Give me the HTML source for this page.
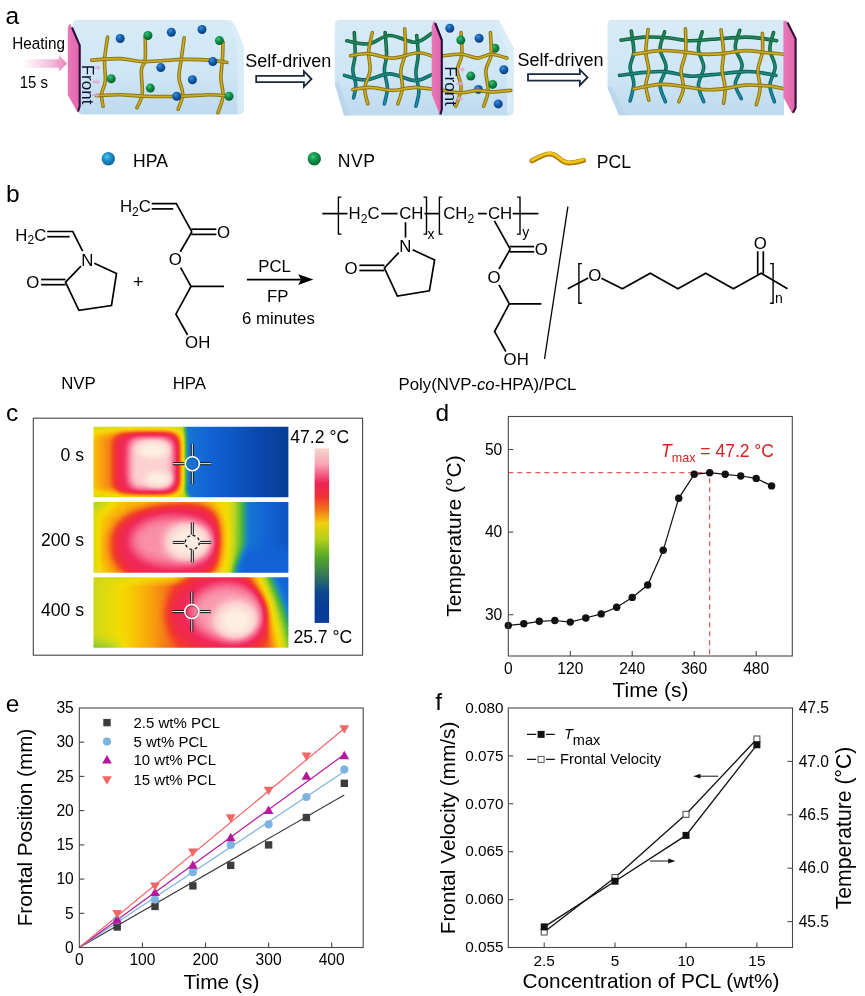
<!DOCTYPE html>
<html><head><meta charset="utf-8"><title>Figure</title>
<style>
html,body{margin:0;padding:0;background:#fff;}
body{width:865px;height:996px;overflow:hidden;font-family:"Liberation Sans", Arial, sans-serif;}
svg{display:block;font-family:"Liberation Sans", Arial, sans-serif;}
</style></head><body>
<svg width="865" height="996" viewBox="0 0 865 996">
<rect width="865" height="996" fill="#fff"/>
<defs>
<linearGradient id="gso" gradientUnits="userSpaceOnUse" x1="0" y1="28" x2="0" y2="108"><stop offset="0" stop-color="#126038"/><stop offset="0.55" stop-color="#0e6254"/><stop offset="1" stop-color="#0c6288"/></linearGradient>
<linearGradient id="gsi" gradientUnits="userSpaceOnUse" x1="0" y1="28" x2="0" y2="108"><stop offset="0" stop-color="#23894f"/><stop offset="0.55" stop-color="#1c8a7c"/><stop offset="1" stop-color="#208cb8"/></linearGradient>
<radialGradient id="spb" cx="0.38" cy="0.32" r="0.7"><stop offset="0" stop-color="#3f8fdc"/><stop offset="0.45" stop-color="#1660b0"/><stop offset="1" stop-color="#0a3a78"/></radialGradient>
<radialGradient id="spg" cx="0.38" cy="0.32" r="0.7"><stop offset="0" stop-color="#3cc47a"/><stop offset="0.45" stop-color="#12904a"/><stop offset="1" stop-color="#0a5c30"/></radialGradient>
<linearGradient id="boxg" x1="0" y1="0" x2="0" y2="1"><stop offset="0" stop-color="#d7ebf7"/><stop offset="0.55" stop-color="#cfe6f5"/><stop offset="0.85" stop-color="#c4def0"/><stop offset="1" stop-color="#bedaee"/></linearGradient>
<linearGradient id="heat" x1="0" y1="0" x2="1" y2="0"><stop offset="0" stop-color="#ee9aca" stop-opacity="0"/><stop offset="0.55" stop-color="#ee9aca" stop-opacity="0.55"/><stop offset="1" stop-color="#e884bc" stop-opacity="1"/></linearGradient>
<linearGradient id="faceg" x1="0" y1="0" x2="1" y2="0"><stop offset="0" stop-color="#e978ba"/><stop offset="1" stop-color="#e066ac"/></linearGradient>
</defs>
<g id="pa">
<path d="M76,19.8 H225 Q232,19.8 235.5,26 L243.8,47 V109 Q243.8,114.4 238,114.4 H83 Q78,114.4 77,110 L72,30 Q72,19.8 76,19.8Z" fill="url(#boxg)"/>
<path d="M229,19.8 Q233,20.5 235.5,26 L243.8,47 V109 Q243.8,114.4 238,114.4 L237.4,111 V49 Z" fill="#deeef9" opacity="0.75"/>
<path d="M340,19.8 H498.6 L513.7,48 V109.5 Q513.7,115.6 508,115.6 H344 L334.8,84 V25 Q334.8,19.8 340,19.8Z" fill="url(#boxg)"/>
<path d="M334.8,84 L344,115.6 H350 L338.5,82 Z" fill="#b9d5ea" opacity="0.8"/>
<path d="M498.6,19.8 L513.7,48 V109.5 Q513.7,115.6 508,115.6 L507,112 V50 L494,19.8Z" fill="#dcedf8" opacity="0.8"/>
<path d="M613,19.8 H784 V115.2 H619 L607.5,88 V25 Q607.5,19.8 613,19.8Z" fill="url(#boxg)"/>
<path d="M607.5,88 L619,115.2 H626 L611.5,86 Z" fill="#b9d5ea" opacity="0.8"/>
<path d="M107.6,37.0 C107.1,40.8 105.0,52.3 104.6,59.6 C104.2,66.9 105.8,74.8 105.3,80.6 C104.8,86.4 102.0,89.9 101.6,94.2 C101.2,98.5 102.8,104.2 103.1,106.2" fill="none" stroke="#8a7412" stroke-width="3.6" stroke-linecap="round"/><path d="M107.6,37.0 C107.1,40.8 105.0,52.3 104.6,59.6 C104.2,66.9 105.8,74.8 105.3,80.6 C104.8,86.4 102.0,89.9 101.6,94.2 C101.2,98.5 102.8,104.2 103.1,106.2" fill="none" stroke="#cdae26" stroke-width="1.6" stroke-linecap="round"/>
<path d="M145.2,36.3 C145.2,40.2 145.8,54.0 145.2,59.6 C144.6,65.2 141.9,64.3 141.4,70.1 C140.9,75.9 142.9,87.9 142.2,94.2 C141.4,100.5 137.8,105.5 136.9,107.7" fill="none" stroke="#8a7412" stroke-width="3.6" stroke-linecap="round"/><path d="M145.2,36.3 C145.2,40.2 145.8,54.0 145.2,59.6 C144.6,65.2 141.9,64.3 141.4,70.1 C140.9,75.9 142.9,87.9 142.2,94.2 C141.4,100.5 137.8,105.5 136.9,107.7" fill="none" stroke="#cdae26" stroke-width="1.6" stroke-linecap="round"/>
<path d="M184.2,37.8 C183.7,41.4 182.1,53.0 181.2,59.6 C180.3,66.2 178.8,71.8 179.0,77.6 C179.2,83.4 182.8,88.9 182.7,94.2 C182.6,99.5 178.9,106.7 178.2,109.2" fill="none" stroke="#8a7412" stroke-width="3.6" stroke-linecap="round"/><path d="M184.2,37.8 C183.7,41.4 182.1,53.0 181.2,59.6 C180.3,66.2 178.8,71.8 179.0,77.6 C179.2,83.4 182.8,88.9 182.7,94.2 C182.6,99.5 178.9,106.7 178.2,109.2" fill="none" stroke="#cdae26" stroke-width="1.6" stroke-linecap="round"/>
<path d="M223.0,42.0 C222.9,45.0 222.8,54.0 222.4,60.0 C222.1,66.0 220.8,72.0 220.9,78.0 C221.0,84.0 223.5,90.4 223.0,96.2 C222.5,102.0 218.8,110.0 217.9,112.7" fill="none" stroke="#8a7412" stroke-width="3.6" stroke-linecap="round"/><path d="M223.0,42.0 C222.9,45.0 222.8,54.0 222.4,60.0 C222.1,66.0 220.8,72.0 220.9,78.0 C221.0,84.0 223.5,90.4 223.0,96.2 C222.5,102.0 218.8,110.0 217.9,112.7" fill="none" stroke="#cdae26" stroke-width="1.6" stroke-linecap="round"/>
<path d="M91.7,60.1 C96.5,59.9 111.4,58.4 120.2,58.6 C129.0,58.9 134.3,61.5 144.3,61.6 C154.3,61.8 169.3,59.8 180.3,59.5 C191.3,59.2 202.6,59.6 210.4,60.1 C218.2,60.6 224.2,62.1 226.9,62.5" fill="none" stroke="#8a7412" stroke-width="3.6" stroke-linecap="round"/><path d="M91.7,60.1 C96.5,59.9 111.4,58.4 120.2,58.6 C129.0,58.9 134.3,61.5 144.3,61.6 C154.3,61.8 169.3,59.8 180.3,59.5 C191.3,59.2 202.6,59.6 210.4,60.1 C218.2,60.6 224.2,62.1 226.9,62.5" fill="none" stroke="#cdae26" stroke-width="1.6" stroke-linecap="round"/>
<path d="M96.2,95.6 C100.2,95.4 112.2,94.6 120.2,94.7 C128.2,94.8 134.3,96.0 144.3,96.2 C154.3,96.5 169.3,96.5 180.3,96.2 C191.3,96.0 202.4,94.7 210.4,94.7 C218.4,94.7 225.4,96.0 228.4,96.2" fill="none" stroke="#8a7412" stroke-width="3.6" stroke-linecap="round"/><path d="M96.2,95.6 C100.2,95.4 112.2,94.6 120.2,94.7 C128.2,94.8 134.3,96.0 144.3,96.2 C154.3,96.5 169.3,96.5 180.3,96.2 C191.3,96.0 202.4,94.7 210.4,94.7 C218.4,94.7 225.4,96.0 228.4,96.2" fill="none" stroke="#cdae26" stroke-width="1.6" stroke-linecap="round"/>
<circle cx="120.2" cy="38.5" r="4.5" fill="url(#spb)"/>
<circle cx="171.3" cy="32.2" r="4.5" fill="url(#spb)"/>
<circle cx="202.0" cy="29.5" r="4.5" fill="url(#spb)"/>
<circle cx="160.8" cy="67.6" r="4.5" fill="url(#spb)"/>
<circle cx="212.8" cy="61.6" r="4.5" fill="url(#spb)"/>
<circle cx="192.4" cy="79.7" r="4.5" fill="url(#spb)"/>
<circle cx="176.7" cy="96.2" r="4.5" fill="url(#spb)"/>
<circle cx="147.9" cy="35.5" r="4.5" fill="url(#spg)"/>
<circle cx="219.4" cy="40.6" r="4.5" fill="url(#spg)"/>
<circle cx="111.2" cy="78.7" r="4.5" fill="url(#spg)"/>
<circle cx="150.3" cy="88.1" r="4.5" fill="url(#spg)"/>
<circle cx="229.0" cy="96.2" r="4.5" fill="url(#spg)"/>
<path d="M354.3,32.5 C354.4,36.3 355.4,48.8 355.1,55.1 C354.9,61.4 352.7,65.1 352.8,70.1 C352.9,75.1 355.7,80.5 355.8,85.1 C355.9,89.7 354.0,95.8 353.6,97.9" fill="none" stroke="url(#gso)" stroke-width="3.6" stroke-linecap="round"/><path d="M354.3,32.5 C354.4,36.3 355.4,48.8 355.1,55.1 C354.9,61.4 352.7,65.1 352.8,70.1 C352.9,75.1 355.7,80.5 355.8,85.1 C355.9,89.7 354.0,95.8 353.6,97.9" fill="none" stroke="url(#gsi)" stroke-width="1.6" stroke-linecap="round"/>
<path d="M385.1,32.5 C385.4,36.3 386.7,48.8 386.6,55.1 C386.5,61.4 384.3,64.6 384.4,70.1 C384.5,75.6 387.4,82.5 387.4,88.1 C387.4,93.7 384.9,101.3 384.4,103.9" fill="none" stroke="url(#gso)" stroke-width="3.6" stroke-linecap="round"/><path d="M385.1,32.5 C385.4,36.3 386.7,48.8 386.6,55.1 C386.5,61.4 384.3,64.6 384.4,70.1 C384.5,75.6 387.4,82.5 387.4,88.1 C387.4,93.7 384.9,101.3 384.4,103.9" fill="none" stroke="url(#gsi)" stroke-width="1.6" stroke-linecap="round"/>
<path d="M416.7,35.5 C416.9,38.8 418.3,48.8 418.2,55.1 C418.1,61.4 415.8,67.1 415.9,73.1 C416.0,79.1 418.9,85.7 418.9,91.2 C418.9,96.7 416.4,103.7 415.9,106.2" fill="none" stroke="url(#gso)" stroke-width="3.6" stroke-linecap="round"/><path d="M416.7,35.5 C416.9,38.8 418.3,48.8 418.2,55.1 C418.1,61.4 415.8,67.1 415.9,73.1 C416.0,79.1 418.9,85.7 418.9,91.2 C418.9,96.7 416.4,103.7 415.9,106.2" fill="none" stroke="url(#gsi)" stroke-width="1.6" stroke-linecap="round"/>
<path d="M346.8,40.8 C350.4,41.3 361.5,44.7 368.6,43.8 C375.7,42.9 381.8,35.8 389.6,35.5 C397.4,35.2 408.2,42.7 415.2,42.3 C422.2,41.9 428.9,34.8 431.7,33.3" fill="none" stroke="url(#gso)" stroke-width="3.6" stroke-linecap="round"/><path d="M346.8,40.8 C350.4,41.3 361.5,44.7 368.6,43.8 C375.7,42.9 381.8,35.8 389.6,35.5 C397.4,35.2 408.2,42.7 415.2,42.3 C422.2,41.9 428.9,34.8 431.7,33.3" fill="none" stroke="url(#gsi)" stroke-width="1.6" stroke-linecap="round"/>
<path d="M344.5,75.4 C348.0,76.2 358.1,80.2 365.6,79.9 C373.1,79.7 381.3,73.8 389.6,73.9 C397.9,74.0 408.2,80.5 415.2,80.6 C422.2,80.7 428.9,75.6 431.7,74.6" fill="none" stroke="url(#gso)" stroke-width="3.6" stroke-linecap="round"/><path d="M344.5,75.4 C348.0,76.2 358.1,80.2 365.6,79.9 C373.1,79.7 381.3,73.8 389.6,73.9 C397.9,74.0 408.2,80.5 415.2,80.6 C422.2,80.7 428.9,75.6 431.7,74.6" fill="none" stroke="url(#gsi)" stroke-width="1.6" stroke-linecap="round"/>
<path d="M372.3,32.5 C371.7,35.8 369.0,45.8 368.6,52.1 C368.2,58.4 370.7,64.1 370.1,70.1 C369.5,76.1 365.2,82.5 364.8,88.1 C364.4,93.7 367.3,101.3 367.8,103.9" fill="none" stroke="#8a7412" stroke-width="3.6" stroke-linecap="round"/><path d="M372.3,32.5 C371.7,35.8 369.0,45.8 368.6,52.1 C368.2,58.4 370.7,64.1 370.1,70.1 C369.5,76.1 365.2,82.5 364.8,88.1 C364.4,93.7 367.3,101.3 367.8,103.9" fill="none" stroke="#cdae26" stroke-width="1.6" stroke-linecap="round"/>
<path d="M404.7,28.8 C404.8,32.7 406.0,45.2 405.4,52.1 C404.8,59.0 401.4,64.1 400.9,70.1 C400.4,76.1 402.9,82.5 402.4,88.1 C401.9,93.7 398.6,101.3 397.9,103.9" fill="none" stroke="#8a7412" stroke-width="3.6" stroke-linecap="round"/><path d="M404.7,28.8 C404.8,32.7 406.0,45.2 405.4,52.1 C404.8,59.0 401.4,64.1 400.9,70.1 C400.4,76.1 402.9,82.5 402.4,88.1 C401.9,93.7 398.6,101.3 397.9,103.9" fill="none" stroke="#cdae26" stroke-width="1.6" stroke-linecap="round"/>
<path d="M350.5,55.8 C353.5,55.4 361.6,53.2 368.6,53.6 C375.6,54.0 384.3,58.2 392.6,58.1 C400.9,58.0 411.2,52.9 418.2,52.8 C425.2,52.7 431.9,56.5 434.7,57.3" fill="none" stroke="#8a7412" stroke-width="3.6" stroke-linecap="round"/><path d="M350.5,55.8 C353.5,55.4 361.6,53.2 368.6,53.6 C375.6,54.0 384.3,58.2 392.6,58.1 C400.9,58.0 411.2,52.9 418.2,52.8 C425.2,52.7 431.9,56.5 434.7,57.3" fill="none" stroke="#cdae26" stroke-width="1.6" stroke-linecap="round"/>
<path d="M352.8,89.6 C355.7,89.2 363.5,87.3 370.1,87.4 C376.7,87.5 385.1,90.4 392.6,90.4 C400.1,90.4 408.2,87.5 415.2,87.4 C422.2,87.3 431.4,89.2 434.7,89.6" fill="none" stroke="#8a7412" stroke-width="3.6" stroke-linecap="round"/><path d="M352.8,89.6 C355.7,89.2 363.5,87.3 370.1,87.4 C376.7,87.5 385.1,90.4 392.6,90.4 C400.1,90.4 408.2,87.5 415.2,87.4 C422.2,87.3 431.4,89.2 434.7,89.6" fill="none" stroke="#cdae26" stroke-width="1.6" stroke-linecap="round"/>
<circle cx="478.4" cy="89.4" r="4.5" fill="url(#spb)"/>
<circle cx="494.9" cy="48.3" r="4.5" fill="url(#spg)"/>
<path d="M461.1,32.5 C461.2,36.3 462.4,48.8 461.8,55.1 C461.2,61.4 457.4,64.6 457.3,70.1 C457.2,75.6 461.4,82.1 461.1,88.1 C460.9,94.1 456.7,103.2 455.8,106.2" fill="none" stroke="#8a7412" stroke-width="3.6" stroke-linecap="round"/><path d="M461.1,32.5 C461.2,36.3 462.4,48.8 461.8,55.1 C461.2,61.4 457.4,64.6 457.3,70.1 C457.2,75.6 461.4,82.1 461.1,88.1 C460.9,94.1 456.7,103.2 455.8,106.2" fill="none" stroke="#cdae26" stroke-width="1.6" stroke-linecap="round"/>
<path d="M490.4,32.5 C490.5,36.3 491.9,48.8 491.1,55.1 C490.4,61.4 486.4,64.1 485.9,70.1 C485.4,76.1 488.5,85.2 488.1,91.2 C487.7,97.2 484.4,103.7 483.6,106.2" fill="none" stroke="#8a7412" stroke-width="3.6" stroke-linecap="round"/><path d="M490.4,32.5 C490.5,36.3 491.9,48.8 491.1,55.1 C490.4,61.4 486.4,64.1 485.9,70.1 C485.4,76.1 488.5,85.2 488.1,91.2 C487.7,97.2 484.4,103.7 483.6,106.2" fill="none" stroke="#cdae26" stroke-width="1.6" stroke-linecap="round"/>
<path d="M443.0,55.8 C446.1,55.5 456.0,53.9 461.8,54.3 C467.6,54.7 472.7,58.1 477.6,58.1 C482.5,58.1 486.2,54.3 491.1,54.3 C496.0,54.3 504.3,57.5 506.9,58.1" fill="none" stroke="#8a7412" stroke-width="3.6" stroke-linecap="round"/><path d="M443.0,55.8 C446.1,55.5 456.0,53.9 461.8,54.3 C467.6,54.7 472.7,58.1 477.6,58.1 C482.5,58.1 486.2,54.3 491.1,54.3 C496.0,54.3 504.3,57.5 506.9,58.1" fill="none" stroke="#cdae26" stroke-width="1.6" stroke-linecap="round"/>
<path d="M443.0,90.4 C446.0,90.8 455.3,92.7 461.1,92.7 C466.9,92.7 472.6,90.5 477.6,90.4 C482.6,90.3 485.6,91.9 491.1,91.9 C496.6,91.9 507.4,90.7 510.7,90.4" fill="none" stroke="#8a7412" stroke-width="3.6" stroke-linecap="round"/><path d="M443.0,90.4 C446.0,90.8 455.3,92.7 461.1,92.7 C466.9,92.7 472.6,90.5 477.6,90.4 C482.6,90.3 485.6,91.9 491.1,91.9 C496.6,91.9 507.4,90.7 510.7,90.4" fill="none" stroke="#cdae26" stroke-width="1.6" stroke-linecap="round"/>
<circle cx="449.8" cy="28.3" r="4.5" fill="url(#spb)"/>
<circle cx="479.1" cy="38.3" r="4.5" fill="url(#spb)"/>
<circle cx="503.9" cy="69.8" r="4.5" fill="url(#spb)"/>
<circle cx="498.2" cy="103.9" r="4.5" fill="url(#spb)"/>
<circle cx="460.8" cy="40.1" r="4.5" fill="url(#spg)"/>
<circle cx="470.8" cy="76.1" r="4.5" fill="url(#spg)"/>
<circle cx="492.6" cy="84.4" r="4.5" fill="url(#spg)"/>
<path d="M631.3,31.0 C631.7,34.5 634.0,46.1 633.8,52.1 C633.6,58.1 630.1,61.8 630.1,67.1 C630.1,72.3 633.8,78.0 633.8,83.6 C633.8,89.2 630.7,98.0 630.1,100.9" fill="none" stroke="url(#gso)" stroke-width="3.6" stroke-linecap="round"/><path d="M631.3,31.0 C631.7,34.5 634.0,46.1 633.8,52.1 C633.6,58.1 630.1,61.8 630.1,67.1 C630.1,72.3 633.8,78.0 633.8,83.6 C633.8,89.2 630.7,98.0 630.1,100.9" fill="none" stroke="url(#gsi)" stroke-width="1.6" stroke-linecap="round"/>
<path d="M664.6,31.8 C663.9,34.7 659.9,43.2 660.1,49.1 C660.4,55.0 666.1,61.1 666.1,67.1 C666.1,73.1 660.2,79.3 660.1,85.1 C660.0,90.9 664.5,98.9 665.4,101.7" fill="none" stroke="url(#gso)" stroke-width="3.6" stroke-linecap="round"/><path d="M664.6,31.8 C663.9,34.7 659.9,43.2 660.1,49.1 C660.4,55.0 666.1,61.1 666.1,67.1 C666.1,73.1 660.2,79.3 660.1,85.1 C660.0,90.9 664.5,98.9 665.4,101.7" fill="none" stroke="url(#gsi)" stroke-width="1.6" stroke-linecap="round"/>
<path d="M702.2,31.8 C701.6,34.7 698.1,43.2 698.4,49.1 C698.6,55.0 703.7,61.1 703.7,67.1 C703.7,73.1 698.4,79.3 698.4,85.1 C698.4,90.9 702.8,98.9 703.7,101.7" fill="none" stroke="url(#gso)" stroke-width="3.6" stroke-linecap="round"/><path d="M702.2,31.8 C701.6,34.7 698.1,43.2 698.4,49.1 C698.6,55.0 703.7,61.1 703.7,67.1 C703.7,73.1 698.4,79.3 698.4,85.1 C698.4,90.9 702.8,98.9 703.7,101.7" fill="none" stroke="url(#gsi)" stroke-width="1.6" stroke-linecap="round"/>
<path d="M739.8,30.3 C739.0,33.2 734.9,41.7 735.3,47.6 C735.7,53.5 742.1,59.6 742.1,65.6 C742.1,71.6 735.4,78.1 735.3,83.6 C735.2,89.1 740.3,96.2 741.3,98.7" fill="none" stroke="url(#gso)" stroke-width="3.6" stroke-linecap="round"/><path d="M739.8,30.3 C739.0,33.2 734.9,41.7 735.3,47.6 C735.7,53.5 742.1,59.6 742.1,65.6 C742.1,71.6 735.4,78.1 735.3,83.6 C735.2,89.1 740.3,96.2 741.3,98.7" fill="none" stroke="url(#gsi)" stroke-width="1.6" stroke-linecap="round"/>
<path d="M773.6,32.5 C773.0,35.3 769.6,43.3 769.9,49.1 C770.1,54.9 775.1,61.1 775.1,67.1 C775.1,73.1 770.0,79.3 769.9,85.1 C769.8,90.9 773.6,98.9 774.4,101.7" fill="none" stroke="url(#gso)" stroke-width="3.6" stroke-linecap="round"/><path d="M773.6,32.5 C773.0,35.3 769.6,43.3 769.9,49.1 C770.1,54.9 775.1,61.1 775.1,67.1 C775.1,73.1 770.0,79.3 769.9,85.1 C769.8,90.9 773.6,98.9 774.4,101.7" fill="none" stroke="url(#gsi)" stroke-width="1.6" stroke-linecap="round"/>
<path d="M621.0,40.1 C625.0,39.6 637.3,37.5 645.1,37.1 C652.9,36.7 660.1,37.2 667.6,37.8 C675.1,38.4 682.7,40.5 690.2,40.8 C697.7,41.0 703.6,39.9 712.7,39.3 C721.9,38.7 736.7,37.2 745.1,37.1 C753.5,37.0 757.9,38.0 763.1,38.6 C768.4,39.2 774.4,40.4 776.6,40.8" fill="none" stroke="url(#gso)" stroke-width="3.6" stroke-linecap="round"/><path d="M621.0,40.1 C625.0,39.6 637.3,37.5 645.1,37.1 C652.9,36.7 660.1,37.2 667.6,37.8 C675.1,38.4 682.7,40.5 690.2,40.8 C697.7,41.0 703.6,39.9 712.7,39.3 C721.9,38.7 736.7,37.2 745.1,37.1 C753.5,37.0 757.9,38.0 763.1,38.6 C768.4,39.2 774.4,40.4 776.6,40.8" fill="none" stroke="url(#gsi)" stroke-width="1.6" stroke-linecap="round"/>
<path d="M619.5,75.4 C623.8,74.9 637.6,73.0 645.1,72.4 C652.6,71.8 657.1,71.0 664.6,71.6 C672.1,72.2 682.2,75.6 690.2,76.1 C698.2,76.6 703.6,75.3 712.7,74.6 C721.9,73.8 736.7,71.8 745.1,71.6 C753.5,71.3 758.0,72.5 763.1,73.1 C768.2,73.7 773.8,75.0 775.9,75.4" fill="none" stroke="url(#gso)" stroke-width="3.6" stroke-linecap="round"/><path d="M619.5,75.4 C623.8,74.9 637.6,73.0 645.1,72.4 C652.6,71.8 657.1,71.0 664.6,71.6 C672.1,72.2 682.2,75.6 690.2,76.1 C698.2,76.6 703.6,75.3 712.7,74.6 C721.9,73.8 736.7,71.8 745.1,71.6 C753.5,71.3 758.0,72.5 763.1,73.1 C768.2,73.7 773.8,75.0 775.9,75.4" fill="none" stroke="url(#gsi)" stroke-width="1.6" stroke-linecap="round"/>
<path d="M648.1,29.5 C647.7,33.3 645.7,45.3 645.8,52.1 C645.9,58.9 648.8,64.6 648.8,70.1 C648.8,75.6 645.8,80.1 645.8,85.1 C645.8,90.1 648.3,97.7 648.8,100.2" fill="none" stroke="#8a7412" stroke-width="3.6" stroke-linecap="round"/><path d="M648.1,29.5 C647.7,33.3 645.7,45.3 645.8,52.1 C645.9,58.9 648.8,64.6 648.8,70.1 C648.8,75.6 645.8,80.1 645.8,85.1 C645.8,90.1 648.3,97.7 648.8,100.2" fill="none" stroke="#cdae26" stroke-width="1.6" stroke-linecap="round"/>
<path d="M685.4,28.8 C685.5,32.7 686.4,45.2 685.7,52.1 C685.0,59.0 681.6,64.1 681.2,70.1 C680.8,76.1 683.8,82.8 683.4,88.1 C683.0,93.4 679.6,99.4 678.9,101.7" fill="none" stroke="#8a7412" stroke-width="3.6" stroke-linecap="round"/><path d="M685.4,28.8 C685.5,32.7 686.4,45.2 685.7,52.1 C685.0,59.0 681.6,64.1 681.2,70.1 C680.8,76.1 683.8,82.8 683.4,88.1 C683.0,93.4 679.6,99.4 678.9,101.7" fill="none" stroke="#cdae26" stroke-width="1.6" stroke-linecap="round"/>
<path d="M721.0,29.9 C721.4,33.6 723.4,45.4 723.6,52.1 C723.8,58.8 721.9,64.1 722.1,70.1 C722.4,76.1 724.9,82.6 725.1,88.1 C725.4,93.6 723.9,100.7 723.6,103.2" fill="none" stroke="#8a7412" stroke-width="3.6" stroke-linecap="round"/><path d="M721.0,29.9 C721.4,33.6 723.4,45.4 723.6,52.1 C723.8,58.8 721.9,64.1 722.1,70.1 C722.4,76.1 724.9,82.6 725.1,88.1 C725.4,93.6 723.9,100.7 723.6,103.2" fill="none" stroke="#cdae26" stroke-width="1.6" stroke-linecap="round"/>
<path d="M762.4,33.3 C762.4,36.4 763.1,46.0 762.4,52.1 C761.6,58.2 758.3,64.1 757.9,70.1 C757.5,76.1 760.4,82.3 760.1,88.1 C759.9,93.9 757.0,101.9 756.4,104.7" fill="none" stroke="#8a7412" stroke-width="3.6" stroke-linecap="round"/><path d="M762.4,33.3 C762.4,36.4 763.1,46.0 762.4,52.1 C761.6,58.2 758.3,64.1 757.9,70.1 C757.5,76.1 760.4,82.3 760.1,88.1 C759.9,93.9 757.0,101.9 756.4,104.7" fill="none" stroke="#cdae26" stroke-width="1.6" stroke-linecap="round"/>
<path d="M633.8,54.3 C638.2,53.7 651.7,51.0 660.1,50.6 C668.5,50.2 676.7,51.5 684.2,52.1 C691.7,52.7 698.8,54.0 705.2,54.3 C711.6,54.5 715.9,54.2 722.5,53.6 C729.1,53.0 737.6,50.7 745.1,50.6 C752.6,50.5 761.2,52.2 767.6,52.8 C774.0,53.4 780.8,54.0 783.4,54.3" fill="none" stroke="#8a7412" stroke-width="3.6" stroke-linecap="round"/><path d="M633.8,54.3 C638.2,53.7 651.7,51.0 660.1,50.6 C668.5,50.2 676.7,51.5 684.2,52.1 C691.7,52.7 698.8,54.0 705.2,54.3 C711.6,54.5 715.9,54.2 722.5,53.6 C729.1,53.0 737.6,50.7 745.1,50.6 C752.6,50.5 761.2,52.2 767.6,52.8 C774.0,53.4 780.8,54.0 783.4,54.3" fill="none" stroke="#cdae26" stroke-width="1.6" stroke-linecap="round"/>
<path d="M633.8,88.9 C638.2,88.2 651.7,84.8 660.1,84.4 C668.5,84.0 676.7,85.7 684.2,86.6 C691.7,87.5 698.8,89.2 705.2,89.6 C711.6,90.0 715.9,89.7 722.5,88.9 C729.1,88.2 737.6,85.6 745.1,85.1 C752.6,84.6 761.0,85.3 767.6,85.9 C774.2,86.5 782.0,88.4 784.9,88.9" fill="none" stroke="#8a7412" stroke-width="3.6" stroke-linecap="round"/><path d="M633.8,88.9 C638.2,88.2 651.7,84.8 660.1,84.4 C668.5,84.0 676.7,85.7 684.2,86.6 C691.7,87.5 698.8,89.2 705.2,89.6 C711.6,90.0 715.9,89.7 722.5,88.9 C729.1,88.2 737.6,85.6 745.1,85.1 C752.6,84.6 761.0,85.3 767.6,85.9 C774.2,86.5 782.0,88.4 784.9,88.9" fill="none" stroke="#cdae26" stroke-width="1.6" stroke-linecap="round"/>
<polygon points="70.0,23.2 79.5,45.3 79.5,106.2 77.5,112.2 67.8,94.9 67.8,27.3" fill="url(#faceg)"/><path d="M72.0,27.5 L79.7,45.3 L79.7,106.2 L78.0,111.5" fill="none" stroke="#2c0c38" stroke-width="2.1" stroke-linejoin="round"/>
<polygon points="434.0,20.2 441.6,40.0 441.6,109.2 440.0,115.2 431.7,94.2 431.7,26.5" fill="url(#faceg)"/><path d="M435.2,23.0 L441.8,40.0 L441.8,109.2 L440.4,114.5" fill="none" stroke="#2c0c38" stroke-width="2.1" stroke-linejoin="round"/>
<polygon points="783.4,21.3 786.4,20.5 795.4,38.6 795.4,107.7 792.4,113.7 783.4,97.2" fill="url(#faceg)"/><path d="M787.5,22.5 L795.6,38.6 L795.6,107.7 L793.0,112.8" fill="none" stroke="#2c0c38" stroke-width="2.1" stroke-linejoin="round"/>
<path d="M93.4,66.6 H97.4 V64.9 L100.6,67.7 L97.4,70.5 V68.8 H93.4Z" fill="#e3a6d6" opacity="0.85"/>
<path d="M92.8,80.8 H96.8 V79.1 L100.0,81.9 L96.8,84.7 V83.0 H92.8Z" fill="#e3a6d6" opacity="0.85"/>
<path d="M92.0,93.9 H96.0 V92.2 L99.2,95.0 L96.0,97.8 V96.1 H92.0Z" fill="#e3a6d6" opacity="0.85"/>
<path d="M457.8,68.3 H461.8 V66.6 L465.0,69.4 L461.8,72.2 V70.5 H457.8Z" fill="#e3a6d6" opacity="0.85"/>
<path d="M456.3,82.5 H460.3 V80.8 L463.5,83.6 L460.3,86.4 V84.7 H456.3Z" fill="#e3a6d6" opacity="0.85"/>
<path d="M456.3,97.6 H460.3 V95.9 L463.5,98.7 L460.3,101.5 V99.8 H456.3Z" fill="#e3a6d6" opacity="0.85"/>
<text transform="translate(81.8,64.7) rotate(90)" font-size="17" fill="#0a1030">Front</text>
<text transform="translate(445.2,66.2) rotate(90)" font-size="17" fill="#0a1030">Front</text>
<path d="M22,59.2 H59 V55.3 L67,63.5 L59,71.8 V67.8 H22Z" fill="url(#heat)"/>
<text transform="translate(12.3,49.4) scale(0.9,1)" font-size="17">Heating</text>
<text transform="translate(19.8,88.4) scale(0.9,1)" font-size="16.6">15 s</text>
<path d="M256.2,75.8 H303.9 V71.2 L311.5,79.0 L303.9,86.8 V82.2 H256.2Z" fill="#fff" stroke="#1a2a3e" stroke-width="1.8" stroke-linejoin="miter"/>
<path d="M528,74.2 H579.9 V69.60000000000001 L587.5,77.4 L579.9,85.2 V80.60000000000001 H528Z" fill="#fff" stroke="#1a2a3e" stroke-width="1.8" stroke-linejoin="miter"/>
<text x="245.2" y="66.7" font-size="18" text-anchor="start" fill="#000" >Self-driven</text>
<text x="517.6" y="66.0" font-size="18" text-anchor="start" fill="#000" >Self-driven</text>
<radialGradient id="splb" cx="0.4" cy="0.35" r="0.68"><stop offset="0" stop-color="#58c4ec"/><stop offset="0.4" stop-color="#1c94cc"/><stop offset="1" stop-color="#0c5e94"/></radialGradient>
<radialGradient id="splg" cx="0.4" cy="0.35" r="0.68"><stop offset="0" stop-color="#3cc880"/><stop offset="0.4" stop-color="#129a4e"/><stop offset="1" stop-color="#0a6232"/></radialGradient>
<circle cx="108.3" cy="158.8" r="6.7" fill="url(#splb)"/>
<text x="133.0" y="167.4" font-size="17.6" text-anchor="start" fill="#000" >HPA</text>
<circle cx="314.3" cy="158.8" r="6.7" fill="url(#splg)"/>
<text x="337.8" y="167.4" font-size="17.6" text-anchor="start" fill="#000" letter-spacing="0.5">NVP</text>
<path d="M532,160.8 C538,158 544,153.2 551,154 C558,155 561,162.5 568,163 C574,163.4 579,161.5 583.5,160.3" fill="none" stroke="#a87c0a" stroke-width="5" stroke-linecap="round"/><path d="M532,160.8 C538,158 544,153.2 551,154 C558,155 561,162.5 568,163 C574,163.4 579,161.5 583.5,160.3" transform="translate(0,-0.6)" fill="none" stroke="#f0c418" stroke-width="2.8" stroke-linecap="round"/>
<text x="596.8" y="167.5" font-size="17.6" text-anchor="start" fill="#000" >PCL</text>
</g>
<g id="pb" stroke-linecap="butt" stroke-linejoin="miter">
<text x="15.3" y="240.5" font-size="16.8">H<tspan font-size="12.1" dy="3.6">2</tspan><tspan dy="-3.6">C</tspan></text>
<path d="M47.2,231.5 L72.8,231.5 L82.6,251.2" fill="none" stroke="#000" stroke-width="1.7"/>
<path d="M47.2,236.7 L69.6,236.7" fill="none" stroke="#000" stroke-width="1.7"/>
<text x="87.4" y="265.6" font-size="16.8" text-anchor="middle">N</text>
<path d="M81.0,266.2 L65.5,282.1 L78.9,310.3 L111.5,305.5 L116.5,273.4 L94.3,263.2" fill="none" stroke="#000" stroke-width="1.7"/>
<path d="M65.5,279.5 L41.1,279.5" fill="none" stroke="#000" stroke-width="1.7"/>
<path d="M65.5,284.7 L41.1,284.7" fill="none" stroke="#000" stroke-width="1.7"/>
<text x="32.9" y="287.8" font-size="16.8" text-anchor="middle">O</text>
<text x="138.3" y="287.6" font-size="18" text-anchor="middle">+</text>
<text x="78.5" y="388.7" font-size="16.8" text-anchor="middle">NVP</text>
<text x="119.9" y="212.4" font-size="16.8">H<tspan font-size="12.1" dy="3.6">2</tspan><tspan dy="-3.6">C</tspan></text>
<path d="M151.7,203.7 L176.3,203.7 L191.9,231.8" fill="none" stroke="#000" stroke-width="1.7"/>
<path d="M151.7,208.9 L173.2,208.9" fill="none" stroke="#000" stroke-width="1.7"/>
<path d="M191.3,229.2 L216.4,229.2" fill="none" stroke="#000" stroke-width="1.7"/>
<path d="M191.3,234.4 L216.4,234.4" fill="none" stroke="#000" stroke-width="1.7"/>
<text x="223.5" y="237.5" font-size="16.8" text-anchor="middle">O</text>
<path d="M191.9,231.8 L180.3,251.8" fill="none" stroke="#000" stroke-width="1.7"/>
<text x="175.4" y="265.3" font-size="16.8" text-anchor="middle">O</text>
<path d="M180.6,267.6 L191.0,286.4 L224.0,286.4" fill="none" stroke="#000" stroke-width="1.7"/>
<path d="M191.0,286.4 L175.9,314.2 L187.6,335.0" fill="none" stroke="#000" stroke-width="1.7"/>
<text x="185.1" y="348.0" font-size="16.8" text-anchor="start">OH</text>
<text x="189.3" y="389.0" font-size="16.8" text-anchor="middle">HPA</text>
<path d="M246.9,279.6 L302.0,279.6" fill="none" stroke="#000" stroke-width="1.7"/>
<path d="M313.4,279.6 L298.2,274.2 L301,279.6 L298.2,285Z" fill="#000"/>
<text x="274.6" y="271.8" font-size="16.8" text-anchor="middle">PCL</text>
<text x="277.7" y="302.4" font-size="16.8" text-anchor="middle">FP</text>
<text x="278.4" y="323.5" font-size="16.8" text-anchor="middle">6 minutes</text>
<path d="M322.3,213.6 L347.5,213.6" fill="none" stroke="#000" stroke-width="1.7"/>
<path d="M341.4,197.1 L338.4,197.1 L338.4,234.1 L341.4,234.1" fill="none" stroke="#000" stroke-width="1.4"/>
<text x="348.6" y="219.2" font-size="16.8">H<tspan font-size="12.1" dy="3.6">2</tspan><tspan dy="-3.6">C</tspan></text>
<path d="M381.2,213.6 L397.6,213.6" fill="none" stroke="#000" stroke-width="1.7"/>
<text x="399.2" y="219.2" font-size="16.8" text-anchor="start">CH</text>
<path d="M424.5,213.6 L439.4,213.6" fill="none" stroke="#000" stroke-width="1.7"/>
<path d="M423.5,197.1 L426.5,197.1 L426.5,234.1 L423.5,234.1" fill="none" stroke="#000" stroke-width="1.4"/>
<text x="427.6" y="239.1" font-size="14" text-anchor="start">x</text>
<path d="M442.4,197.1 L439.4,197.1 L439.4,234.1 L442.4,234.1" fill="none" stroke="#000" stroke-width="1.4"/>
<text x="443.2" y="219.2" font-size="16.8">CH<tspan font-size="12.1" dy="3.6">2</tspan></text>
<path d="M478.0,213.6 L486.8,213.6" fill="none" stroke="#000" stroke-width="1.7"/>
<text x="487.9" y="219.2" font-size="16.8" text-anchor="start">CH</text>
<path d="M512.6,213.6 L538.4,213.6" fill="none" stroke="#000" stroke-width="1.7"/>
<path d="M517.0,197.1 L520.0,197.1 L520.0,234.1 L517.0,234.1" fill="none" stroke="#000" stroke-width="1.4"/>
<text x="522.2" y="237.2" font-size="14" text-anchor="start">y</text>
<path d="M405.5,222.3 L405.5,237.6" fill="none" stroke="#000" stroke-width="1.7"/>
<text x="405.3" y="251.8" font-size="16.8" text-anchor="middle">N</text>
<path d="M398.8,252.6 L384.4,268.0 L397.4,296.0 L429.4,290.8 L434.6,259.9 L412.6,249.8" fill="none" stroke="#000" stroke-width="1.7"/>
<path d="M384.4,265.3 L359.4,265.3" fill="none" stroke="#000" stroke-width="1.7"/>
<path d="M384.4,270.5 L359.4,270.5" fill="none" stroke="#000" stroke-width="1.7"/>
<text x="351.1" y="274.3" font-size="16.8" text-anchor="middle">O</text>
<path d="M494.4,220.8 L510.2,249.2" fill="none" stroke="#000" stroke-width="1.7"/>
<path d="M509.6,246.6 L534.2,246.6" fill="none" stroke="#000" stroke-width="1.7"/>
<path d="M509.6,251.8 L534.2,251.8" fill="none" stroke="#000" stroke-width="1.7"/>
<text x="541.4" y="254.9" font-size="16.8" text-anchor="middle">O</text>
<path d="M510.2,249.2 L499.0,269.0" fill="none" stroke="#000" stroke-width="1.7"/>
<text x="494.0" y="282.6" font-size="16.8" text-anchor="middle">O</text>
<path d="M499.0,284.9 L509.3,303.8 L541.4,303.8" fill="none" stroke="#000" stroke-width="1.7"/>
<path d="M509.3,303.8 L494.6,331.6 L505.8,351.5" fill="none" stroke="#000" stroke-width="1.7"/>
<text x="503.6" y="365.4" font-size="16.8" text-anchor="start">OH</text>
<path d="M567.9,206.7 L544.5,359.0" fill="none" stroke="#000" stroke-width="1.3"/>
<text x="487.5" y="390.2" font-size="16.8" text-anchor="middle">Poly(NVP-<tspan font-style="italic">co</tspan>-HPA)/PCL</text>
<path d="M581.9,263.6 L578.9,263.6 L578.9,303.2 L581.9,303.2" fill="none" stroke="#000" stroke-width="1.4"/>
<path d="M567.8,288.8 L588.2,278.1" fill="none" stroke="#000" stroke-width="1.7"/>
<text x="594.7" y="280.6" font-size="16.8" text-anchor="middle">O</text>
<path d="M601.4,278.2 L622.4,288.8 L650.2,273.3 L677.9,288.8 L705.7,273.3 L733.4,288.8 L761.2,273.3 L787.5,288.8" fill="none" stroke="#000" stroke-width="1.7"/>
<path d="M757.7,274.5 L757.7,251.3" fill="none" stroke="#000" stroke-width="1.7"/>
<path d="M763.3,273.8 L763.3,251.3" fill="none" stroke="#000" stroke-width="1.7"/>
<text x="760.4" y="248.5" font-size="16.8" text-anchor="middle">O</text>
<path d="M770.1,263.6 L773.1,263.6 L773.1,303.2 L770.1,303.2" fill="none" stroke="#000" stroke-width="1.4"/>
<text x="775.0" y="303.4" font-size="14" text-anchor="start">n</text>
</g>
<defs>
<filter id="cmap" x="0" y="0" width="1" height="1" color-interpolation-filters="sRGB"><feComponentTransfer><feFuncR type="table" tableValues="0.031 0.033 0.035 0.037 0.039 0.047 0.055 0.063 0.071 0.080 0.090 0.100 0.127 0.158 0.230 0.312 0.419 0.565 0.710 0.812 0.885 0.958 0.973 0.973 0.973 0.968 0.961 0.953 0.948 0.946 0.943 0.943 0.953 0.963 0.973 0.978 0.984 0.988 0.990 0.991 0.992"/><feFuncG type="table" tableValues="0.227 0.242 0.257 0.272 0.286 0.312 0.337 0.363 0.388 0.424 0.459 0.495 0.552 0.615 0.664 0.710 0.753 0.792 0.831 0.850 0.856 0.862 0.796 0.713 0.629 0.527 0.412 0.297 0.217 0.190 0.163 0.162 0.265 0.368 0.471 0.588 0.706 0.809 0.853 0.897 0.941"/><feFuncB type="table" tableValues="0.565 0.596 0.627 0.659 0.690 0.727 0.765 0.802 0.839 0.832 0.825 0.817 0.690 0.533 0.397 0.267 0.179 0.157 0.134 0.099 0.054 0.009 0.016 0.035 0.055 0.080 0.110 0.139 0.180 0.239 0.298 0.361 0.439 0.518 0.596 0.669 0.742 0.805 0.832 0.859 0.886"/></feComponentTransfer></filter>
<filter id="bl1_5" x="-50%" y="-50%" width="200%" height="200%" color-interpolation-filters="sRGB"><feGaussianBlur stdDeviation="1.5"/></filter>
<filter id="bl2" x="-50%" y="-50%" width="200%" height="200%" color-interpolation-filters="sRGB"><feGaussianBlur stdDeviation="2"/></filter>
<filter id="bl3" x="-50%" y="-50%" width="200%" height="200%" color-interpolation-filters="sRGB"><feGaussianBlur stdDeviation="3"/></filter>
<filter id="bl4" x="-50%" y="-50%" width="200%" height="200%" color-interpolation-filters="sRGB"><feGaussianBlur stdDeviation="4"/></filter>
<filter id="bl5" x="-50%" y="-50%" width="200%" height="200%" color-interpolation-filters="sRGB"><feGaussianBlur stdDeviation="5"/></filter>
<filter id="bl6" x="-50%" y="-50%" width="200%" height="200%" color-interpolation-filters="sRGB"><feGaussianBlur stdDeviation="6"/></filter>
<filter id="bl8" x="-50%" y="-50%" width="200%" height="200%" color-interpolation-filters="sRGB"><feGaussianBlur stdDeviation="8"/></filter>
<filter id="bl10" x="-50%" y="-50%" width="200%" height="200%" color-interpolation-filters="sRGB"><feGaussianBlur stdDeviation="10"/></filter>
<clipPath id="ic0"><rect x="93.5" y="426.8" width="194.89999999999998" height="70.39999999999998"/></clipPath>
<clipPath id="ic1"><rect x="93.5" y="501.9" width="194.89999999999998" height="70.80000000000007"/></clipPath>
<clipPath id="ic2"><rect x="93.5" y="577.3" width="194.89999999999998" height="70.40000000000009"/></clipPath>
<linearGradient id="g1" gradientUnits="userSpaceOnUse" x1="184" y1="0" x2="290" y2="0"><stop offset="0" stop-color="#424242"/><stop offset="0.3" stop-color="#303030"/><stop offset="0.65" stop-color="#1c1c1c"/><stop offset="1" stop-color="#050505"/></linearGradient>
<linearGradient id="g2" gradientUnits="userSpaceOnUse" x1="93" y1="0" x2="289" y2="0"><stop offset="0" stop-color="#7d7d7d"/><stop offset="0.05" stop-color="#8c8c8c"/><stop offset="0.1" stop-color="#919191"/><stop offset="0.62" stop-color="#8c8c8c"/><stop offset="0.69" stop-color="#828282"/><stop offset="0.75" stop-color="#666666"/><stop offset="0.80" stop-color="#404040"/><stop offset="1" stop-color="#242424"/></linearGradient>
<linearGradient id="g3" gradientUnits="userSpaceOnUse" x1="93" y1="0" x2="289" y2="0"><stop offset="0" stop-color="#797979"/><stop offset="0.1" stop-color="#828282"/><stop offset="0.22" stop-color="#8f8f8f"/><stop offset="0.34" stop-color="#9e9e9e"/><stop offset="0.44" stop-color="#adadad"/><stop offset="1" stop-color="#a8a8a8"/></linearGradient>
<linearGradient id="g1b" gradientUnits="userSpaceOnUse" x1="90" y1="0" x2="118" y2="0"><stop offset="0" stop-color="#8c8c8c"/><stop offset="1" stop-color="#ababab"/></linearGradient>
<linearGradient id="cbar" x1="0" y1="0" x2="0" y2="1"><stop offset="0" stop-color="#f4d8cc"/><stop offset="0.09" stop-color="#f8a4b4"/><stop offset="0.2" stop-color="#ee2458"/><stop offset="0.28" stop-color="#f03232"/><stop offset="0.35" stop-color="#f07418"/><stop offset="0.43" stop-color="#f0d010"/><stop offset="0.52" stop-color="#b4d018"/><stop offset="0.62" stop-color="#54a828"/><stop offset="0.72" stop-color="#387a54"/><stop offset="0.82" stop-color="#0e488e"/><stop offset="0.9" stop-color="#083c98"/><stop offset="1" stop-color="#0a3c9c"/></linearGradient>
</defs>
<g id="pc">
<g clip-path="url(#ic0)"><g filter="url(#cmap)">
<rect x="80" y="416.8" width="230" height="90.39999999999998" fill="url(#g1)"/>
<g filter="url(#bl2)"><path d="M70,406.8 H185 V489.2 Q187,499.2 199,503.2 V517.2 H70Z" fill="#787878"/></g>
<g filter="url(#bl4)"><rect x="60" y="432" width="121" height="61" rx="6" fill="url(#g1b)"/></g>
<g filter="url(#bl3)"><rect x="115" y="433.5" width="63" height="59.5" rx="10" fill="#c2c2c2"/></g>
<g filter="url(#bl4)"><rect x="128.5" y="437.5" width="45" height="52" rx="10" fill="#ededed"/></g>
<g filter="url(#bl3)"><ellipse cx="153" cy="450" rx="15" ry="8" fill="#ffffff"/><ellipse cx="158" cy="479" rx="13" ry="7" fill="#ffffff"/></g>
</g></g>
<g clip-path="url(#ic1)"><g filter="url(#cmap)">
<rect x="80" y="491.9" width="230" height="90.80000000000007" fill="url(#g2)"/>
<g filter="url(#bl4)"><path d="M232,585 Q236,562 247,548 L300,548 L300,585Z" fill="#333333"/></g>
<g filter="url(#bl6)"><ellipse cx="92" cy="500" rx="22" ry="9" fill="#707070"/></g>
<g filter="url(#bl6)"><path d="M110,527 Q128,501 185,500 Q223,500 223,538 Q223,580 185,582 L128,582 Q96,562 110,527Z" fill="#a8a8a8"/></g>
<g filter="url(#bl4)"><path d="M118,528 Q132,508 185,506 Q216,506 217,525 L217,560 Q216,577 185,578 L138,578 Q106,562 118,528Z" fill="#c2c2c2"/></g>
<g filter="url(#bl6)"><ellipse cx="172" cy="541" rx="42" ry="25" fill="#dedede"/></g>
<g filter="url(#bl6)"><ellipse cx="188" cy="542" rx="21" ry="17" fill="#ffffff"/></g>
</g></g>
<g clip-path="url(#ic2)"><g filter="url(#cmap)">
<rect x="80" y="567.3" width="230" height="90.40000000000009" fill="url(#g3)"/>
<g filter="url(#bl6)"><ellipse cx="92" cy="651" rx="30" ry="8" fill="#666666"/></g>
<g filter="url(#bl6)"><rect x="80" y="566" width="105" height="13" fill="#787878"/></g>
<g filter="url(#bl6)"><path d="M168,612 Q174,574 225,572 Q256,574 268,612 Q276,650 232,654 Q170,654 168,612Z" fill="#c2c2c2"/></g>
<g filter="url(#bl5)"><path d="M246,560 L310,560 L310,670 L278,670 Q272,610 246,560Z" fill="#858585"/></g>
<g filter="url(#bl4)"><path d="M257,560 L310,560 L310,670 L290,670 Q282,610 257,560Z" fill="#616161"/></g>
<g filter="url(#bl4)"><path d="M265,560 L310,560 L310,640 L296,640 Q288,605 265,560Z" fill="#333333"/></g>
<g filter="url(#bl6)"><ellipse cx="227" cy="612" rx="37" ry="28" fill="#e0e0e0"/></g>
<g filter="url(#bl6)"><ellipse cx="236" cy="621" rx="20" ry="17" fill="#ffffff"/></g>
</g></g>
<line x1="172.8" y1="463.7" x2="184.5" y2="463.7" stroke="#111" stroke-width="3"/><line x1="172.8" y1="463.7" x2="184.5" y2="463.7" stroke="#fff" stroke-width="1"/><line x1="200.1" y1="463.7" x2="211.3" y2="463.7" stroke="#111" stroke-width="3"/><line x1="200.1" y1="463.7" x2="211.3" y2="463.7" stroke="#fff" stroke-width="1"/><line x1="192.3" y1="443.7" x2="192.3" y2="455.9" stroke="#111" stroke-width="3"/><line x1="192.3" y1="443.7" x2="192.3" y2="455.9" stroke="#fff" stroke-width="1"/><line x1="192.3" y1="471.5" x2="192.3" y2="483.7" stroke="#111" stroke-width="3"/><line x1="192.3" y1="471.5" x2="192.3" y2="483.7" stroke="#fff" stroke-width="1"/><circle cx="192.3" cy="463.7" r="5.9" fill="none" stroke="#111" stroke-width="0.8" opacity="0.55"/><circle cx="192.3" cy="463.7" r="7.0" fill="none" stroke="#fff" stroke-width="1.5"/>
<line x1="172.8" y1="542.4" x2="184.5" y2="542.4" stroke="#111" stroke-width="3"/><line x1="172.8" y1="542.4" x2="184.5" y2="542.4" stroke="#fff" stroke-width="1"/><line x1="200.1" y1="542.4" x2="211.3" y2="542.4" stroke="#111" stroke-width="3"/><line x1="200.1" y1="542.4" x2="211.3" y2="542.4" stroke="#fff" stroke-width="1"/><line x1="192.3" y1="522.4" x2="192.3" y2="534.6" stroke="#111" stroke-width="3"/><line x1="192.3" y1="522.4" x2="192.3" y2="534.6" stroke="#fff" stroke-width="1"/><line x1="192.3" y1="550.2" x2="192.3" y2="562.4" stroke="#111" stroke-width="3"/><line x1="192.3" y1="550.2" x2="192.3" y2="562.4" stroke="#fff" stroke-width="1"/><circle cx="192.3" cy="542.4" r="7.0" fill="none" stroke="#111" stroke-width="1.3" stroke-dasharray="3,2.5"/>
<line x1="172.3" y1="611.6" x2="184.0" y2="611.6" stroke="#111" stroke-width="3"/><line x1="172.3" y1="611.6" x2="184.0" y2="611.6" stroke="#fff" stroke-width="1"/><line x1="199.6" y1="611.6" x2="210.8" y2="611.6" stroke="#111" stroke-width="3"/><line x1="199.6" y1="611.6" x2="210.8" y2="611.6" stroke="#fff" stroke-width="1"/><line x1="191.8" y1="591.6" x2="191.8" y2="603.8" stroke="#111" stroke-width="3"/><line x1="191.8" y1="591.6" x2="191.8" y2="603.8" stroke="#fff" stroke-width="1"/><line x1="191.8" y1="619.4" x2="191.8" y2="631.6" stroke="#111" stroke-width="3"/><line x1="191.8" y1="619.4" x2="191.8" y2="631.6" stroke="#fff" stroke-width="1"/><circle cx="191.8" cy="611.6" r="5.9" fill="none" stroke="#111" stroke-width="0.8" opacity="0.55"/><circle cx="191.8" cy="611.6" r="7.0" fill="none" stroke="#fff" stroke-width="1.5"/>
<rect x="314.6" y="448.4" width="14.5" height="174.5" fill="url(#cbar)"/>
<text x="290.3" y="443.4" font-size="17.6" text-anchor="start" fill="#000" >47.2 °C</text>
<text x="293.4" y="642.9" font-size="17.6" text-anchor="start" fill="#000" >25.7 °C</text>
<text x="84.0" y="460.5" font-size="17.6" text-anchor="end" fill="#000" >0 s</text>
<text x="84.0" y="546.0" font-size="17.6" text-anchor="end" fill="#000" >200 s</text>
<text x="84.0" y="616.0" font-size="17.6" text-anchor="end" fill="#000" >400 s</text>
<rect x="33.3" y="418.2" width="329.3" height="237" fill="none" stroke="#444" stroke-width="1.1"/>
</g>
<g id="pd">
<text x="508.3" y="674.3" font-size="15.6" text-anchor="middle" fill="#000" >0</text>
<line x1="570.3" y1="656.0" x2="570.3" y2="651.0" stroke="#484848" stroke-width="1.1"/>
<text x="570.3" y="674.3" font-size="15.6" text-anchor="middle" fill="#000" >120</text>
<line x1="632.2" y1="656.0" x2="632.2" y2="651.0" stroke="#484848" stroke-width="1.1"/>
<text x="632.2" y="674.3" font-size="15.6" text-anchor="middle" fill="#000" >240</text>
<line x1="694.2" y1="656.0" x2="694.2" y2="651.0" stroke="#484848" stroke-width="1.1"/>
<text x="694.2" y="674.3" font-size="15.6" text-anchor="middle" fill="#000" >360</text>
<line x1="756.2" y1="656.0" x2="756.2" y2="651.0" stroke="#484848" stroke-width="1.1"/>
<text x="756.2" y="674.3" font-size="15.6" text-anchor="middle" fill="#000" >480</text>
<line x1="513.3" y1="614.7" x2="508.3" y2="614.7" stroke="#484848" stroke-width="1.1"/>
<text x="502.3" y="620.0" font-size="15.6" text-anchor="end" fill="#000" >30</text>
<line x1="513.3" y1="532.1" x2="508.3" y2="532.1" stroke="#484848" stroke-width="1.1"/>
<text x="502.3" y="537.4" font-size="15.6" text-anchor="end" fill="#000" >40</text>
<line x1="513.3" y1="449.5" x2="508.3" y2="449.5" stroke="#484848" stroke-width="1.1"/>
<text x="502.3" y="454.8" font-size="15.6" text-anchor="end" fill="#000" >50</text>
<path d="M508.3,472.7 H709.7 V656.0" fill="none" stroke="#e03030" stroke-width="1" stroke-dasharray="5,4"/>
<polyline fill="none" stroke="#111" stroke-width="1.2" points="508.3,625.4 523.8,623.8 539.3,621.3 554.8,620.5 570.3,622.1 585.8,618.0 601.2,613.9 616.7,607.3 632.2,597.4 647.7,585.0 663.2,550.3 678.7,498.3 694.2,474.3 709.7,472.7 725.2,474.3 740.7,476.0 756.2,478.4 771.6,485.9"/>
<circle cx="508.3" cy="625.4" r="3.7" fill="#111"/>
<circle cx="523.8" cy="623.8" r="3.7" fill="#111"/>
<circle cx="539.3" cy="621.3" r="3.7" fill="#111"/>
<circle cx="554.8" cy="620.5" r="3.7" fill="#111"/>
<circle cx="570.3" cy="622.1" r="3.7" fill="#111"/>
<circle cx="585.8" cy="618.0" r="3.7" fill="#111"/>
<circle cx="601.2" cy="613.9" r="3.7" fill="#111"/>
<circle cx="616.7" cy="607.3" r="3.7" fill="#111"/>
<circle cx="632.2" cy="597.4" r="3.7" fill="#111"/>
<circle cx="647.7" cy="585.0" r="3.7" fill="#111"/>
<circle cx="663.2" cy="550.3" r="3.7" fill="#111"/>
<circle cx="678.7" cy="498.3" r="3.7" fill="#111"/>
<circle cx="694.2" cy="474.3" r="3.7" fill="#111"/>
<circle cx="709.7" cy="472.7" r="3.7" fill="#111"/>
<circle cx="725.2" cy="474.3" r="3.7" fill="#111"/>
<circle cx="740.7" cy="476.0" r="3.7" fill="#111"/>
<circle cx="756.2" cy="478.4" r="3.7" fill="#111"/>
<circle cx="771.6" cy="485.9" r="3.7" fill="#111"/>
<rect x="508.3" y="416.5" width="283.99999999999994" height="239.5" fill="none" stroke="#484848" stroke-width="1.1"/>
<text x="661" y="457.3" font-size="17.5" fill="#d81e1e"><tspan font-style="italic">T</tspan><tspan font-size="12.6" dy="5">max</tspan><tspan dy="-5"> = 47.2 °C</tspan></text>
<text transform="translate(460.5,536) rotate(-90)" font-size="21" text-anchor="middle">Temperature (°C)</text>
<text x="650.5" y="696.5" font-size="20.9" text-anchor="middle" fill="#000" >Time (s)</text>
</g>
<g id="pe">
<text x="79.3" y="965.1" font-size="15.6" text-anchor="middle" fill="#000" >0</text>
<line x1="142.4" y1="947.5" x2="142.4" y2="942.5" stroke="#484848" stroke-width="1.1"/>
<text x="142.4" y="965.1" font-size="15.6" text-anchor="middle" fill="#000" >100</text>
<line x1="205.5" y1="947.5" x2="205.5" y2="942.5" stroke="#484848" stroke-width="1.1"/>
<text x="205.5" y="965.1" font-size="15.6" text-anchor="middle" fill="#000" >200</text>
<line x1="268.6" y1="947.5" x2="268.6" y2="942.5" stroke="#484848" stroke-width="1.1"/>
<text x="268.6" y="965.1" font-size="15.6" text-anchor="middle" fill="#000" >300</text>
<line x1="331.7" y1="947.5" x2="331.7" y2="942.5" stroke="#484848" stroke-width="1.1"/>
<text x="331.7" y="965.1" font-size="15.6" text-anchor="middle" fill="#000" >400</text>
<text x="73.8" y="952.7" font-size="15.6" text-anchor="end" fill="#000" >0</text>
<line x1="84.3" y1="913.3" x2="79.3" y2="913.3" stroke="#484848" stroke-width="1.1"/>
<text x="73.8" y="918.5" font-size="15.6" text-anchor="end" fill="#000" >5</text>
<line x1="84.3" y1="879.1" x2="79.3" y2="879.1" stroke="#484848" stroke-width="1.1"/>
<text x="73.8" y="884.3" font-size="15.6" text-anchor="end" fill="#000" >10</text>
<line x1="84.3" y1="844.9" x2="79.3" y2="844.9" stroke="#484848" stroke-width="1.1"/>
<text x="73.8" y="850.1" font-size="15.6" text-anchor="end" fill="#000" >15</text>
<line x1="84.3" y1="810.6" x2="79.3" y2="810.6" stroke="#484848" stroke-width="1.1"/>
<text x="73.8" y="815.8" font-size="15.6" text-anchor="end" fill="#000" >20</text>
<line x1="84.3" y1="776.4" x2="79.3" y2="776.4" stroke="#484848" stroke-width="1.1"/>
<text x="73.8" y="781.6" font-size="15.6" text-anchor="end" fill="#000" >25</text>
<line x1="84.3" y1="742.2" x2="79.3" y2="742.2" stroke="#484848" stroke-width="1.1"/>
<text x="73.8" y="747.4" font-size="15.6" text-anchor="end" fill="#000" >30</text>
<text x="73.8" y="713.2" font-size="15.6" text-anchor="end" fill="#000" >35</text>
<line x1="79.3" y1="947.5" x2="344.3" y2="794.9" stroke="#3d3d3d" stroke-width="1.2"/>
<line x1="79.3" y1="947.5" x2="344.3" y2="771.6" stroke="#7db3e3" stroke-width="1.2"/>
<line x1="79.3" y1="947.5" x2="344.3" y2="754.5" stroke="#b5189f" stroke-width="1.2"/>
<line x1="79.3" y1="947.5" x2="344.3" y2="728.5" stroke="#f26666" stroke-width="1.2"/>
<rect x="113.5" y="923.3" width="7.4" height="7.4" fill="#3d3d3d"/>
<rect x="151.3" y="902.7" width="7.4" height="7.4" fill="#3d3d3d"/>
<rect x="189.2" y="882.2" width="7.4" height="7.4" fill="#3d3d3d"/>
<rect x="227.0" y="861.7" width="7.4" height="7.4" fill="#3d3d3d"/>
<rect x="264.9" y="841.2" width="7.4" height="7.4" fill="#3d3d3d"/>
<rect x="302.7" y="813.8" width="7.4" height="7.4" fill="#3d3d3d"/>
<rect x="340.6" y="779.6" width="7.4" height="7.4" fill="#3d3d3d"/>
<circle cx="117.2" cy="920.1" r="4.1" fill="#7db3e3"/>
<circle cx="155.0" cy="899.6" r="4.1" fill="#7db3e3"/>
<circle cx="192.9" cy="872.2" r="4.1" fill="#7db3e3"/>
<circle cx="230.7" cy="844.9" r="4.1" fill="#7db3e3"/>
<circle cx="268.6" cy="824.3" r="4.1" fill="#7db3e3"/>
<circle cx="306.4" cy="797.0" r="4.1" fill="#7db3e3"/>
<circle cx="344.3" cy="769.6" r="4.1" fill="#7db3e3"/>
<polygon points="117.2,914.9 112.3,923.4 122.1,923.4" fill="#b5189f"/>
<polygon points="155.0,887.6 150.1,896.1 159.9,896.1" fill="#b5189f"/>
<polygon points="192.9,860.2 188.0,868.7 197.8,868.7" fill="#b5189f"/>
<polygon points="230.7,832.8 225.8,841.3 235.6,841.3" fill="#b5189f"/>
<polygon points="268.6,805.4 263.7,813.9 273.5,813.9" fill="#b5189f"/>
<polygon points="306.4,771.2 301.5,779.7 311.3,779.7" fill="#b5189f"/>
<polygon points="344.3,750.7 339.4,759.2 349.2,759.2" fill="#b5189f"/>
<polygon points="117.2,918.5 112.3,910.0 122.1,910.0" fill="#f26666"/>
<polygon points="155.0,891.1 150.1,882.6 159.9,882.6" fill="#f26666"/>
<polygon points="192.9,856.9 188.0,848.4 197.8,848.4" fill="#f26666"/>
<polygon points="230.7,822.7 225.8,814.2 235.6,814.2" fill="#f26666"/>
<polygon points="268.6,795.3 263.7,786.8 273.5,786.8" fill="#f26666"/>
<polygon points="306.4,761.1 301.5,752.6 311.3,752.6" fill="#f26666"/>
<polygon points="344.3,733.7 339.4,725.2 349.2,725.2" fill="#f26666"/>
<rect x="79.3" y="708.0" width="283.9" height="239.5" fill="none" stroke="#484848" stroke-width="1.1"/>
<rect x="103.3" y="718.9" width="7.4" height="7.4" fill="#3d3d3d"/>
<text x="133.5" y="727.5" font-size="15" text-anchor="start" fill="#000" >2.5 wt% PCL</text>
<circle cx="107.0" cy="741.6" r="4.1" fill="#7db3e3"/>
<text x="133.5" y="746.5" font-size="15" text-anchor="start" fill="#000" >5 wt% PCL</text>
<polygon points="107.0,755.1 102.1,763.6 111.9,763.6" fill="#b5189f"/>
<text x="133.5" y="765.2" font-size="15" text-anchor="start" fill="#000" >10 wt% PCL</text>
<polygon points="107.0,784.8 102.1,776.3 111.9,776.3" fill="#f26666"/>
<text x="133.5" y="784.5" font-size="15" text-anchor="start" fill="#000" >15 wt% PCL</text>
<text transform="translate(31.8,827.5) rotate(-90)" font-size="20.7" text-anchor="middle">Frontal Position (mm)</text>
<text x="221.5" y="988.5" font-size="20.9" text-anchor="middle" fill="#000" >Time (s)</text>
</g>
<g id="pf">
<line x1="544.2" y1="947.5" x2="544.2" y2="942.5" stroke="#484848" stroke-width="1.1"/>
<text x="544.2" y="966.0" font-size="15.4" text-anchor="middle" fill="#000" >2.5</text>
<line x1="615.0" y1="947.5" x2="615.0" y2="942.5" stroke="#484848" stroke-width="1.1"/>
<text x="615.0" y="966.0" font-size="15.4" text-anchor="middle" fill="#000" >5</text>
<line x1="686.0" y1="947.5" x2="686.0" y2="942.5" stroke="#484848" stroke-width="1.1"/>
<text x="686.0" y="966.0" font-size="15.4" text-anchor="middle" fill="#000" >10</text>
<line x1="756.9" y1="947.5" x2="756.9" y2="942.5" stroke="#484848" stroke-width="1.1"/>
<text x="756.9" y="966.0" font-size="15.4" text-anchor="middle" fill="#000" >15</text>
<text x="503.5" y="952.2" font-size="15.3" text-anchor="end" fill="#000" >0.055</text>
<line x1="513.3" y1="899.6" x2="508.3" y2="899.6" stroke="#484848" stroke-width="1.1"/>
<text x="503.5" y="904.3" font-size="15.3" text-anchor="end" fill="#000" >0.060</text>
<line x1="513.3" y1="851.7" x2="508.3" y2="851.7" stroke="#484848" stroke-width="1.1"/>
<text x="503.5" y="856.4" font-size="15.3" text-anchor="end" fill="#000" >0.065</text>
<line x1="513.3" y1="803.8" x2="508.3" y2="803.8" stroke="#484848" stroke-width="1.1"/>
<text x="503.5" y="808.5" font-size="15.3" text-anchor="end" fill="#000" >0.070</text>
<line x1="513.3" y1="755.9" x2="508.3" y2="755.9" stroke="#484848" stroke-width="1.1"/>
<text x="503.5" y="760.6" font-size="15.3" text-anchor="end" fill="#000" >0.075</text>
<text x="503.5" y="712.7" font-size="15.3" text-anchor="end" fill="#000" >0.080</text>
<text x="798.7" y="713.2" font-size="15.6" text-anchor="start" fill="#000" >47.5</text>
<line x1="792.5" y1="761.4" x2="787.5" y2="761.4" stroke="#484848" stroke-width="1.1"/>
<text x="798.7" y="766.6" font-size="15.6" text-anchor="start" fill="#000" >47.0</text>
<line x1="792.5" y1="814.8" x2="787.5" y2="814.8" stroke="#484848" stroke-width="1.1"/>
<text x="798.7" y="820.0" font-size="15.6" text-anchor="start" fill="#000" >46.5</text>
<line x1="792.5" y1="868.2" x2="787.5" y2="868.2" stroke="#484848" stroke-width="1.1"/>
<text x="798.7" y="873.4" font-size="15.6" text-anchor="start" fill="#000" >46.0</text>
<line x1="792.5" y1="921.6" x2="787.5" y2="921.6" stroke="#484848" stroke-width="1.1"/>
<text x="798.7" y="926.8" font-size="15.6" text-anchor="start" fill="#000" >45.5</text>
<polyline fill="none" stroke="#111" stroke-width="1.3" points="544.2,932.0 615.0,877.6 686.0,814.3 756.9,739.0"/>
<polyline fill="none" stroke="#111" stroke-width="1.3" points="544.2,926.9 615.0,881.2 686.0,835.4 756.9,744.8"/>
<rect x="541.2" y="929.0" width="6" height="6" fill="#fff" stroke="#444" stroke-width="1"/>
<rect x="612.0" y="874.6" width="6" height="6" fill="#fff" stroke="#444" stroke-width="1"/>
<rect x="683.0" y="811.3" width="6" height="6" fill="#fff" stroke="#444" stroke-width="1"/>
<rect x="753.9" y="736.0" width="6" height="6" fill="#fff" stroke="#444" stroke-width="1"/>
<rect x="540.7" y="923.4" width="7" height="7" fill="#111"/>
<rect x="611.5" y="877.7" width="7" height="7" fill="#111"/>
<rect x="682.5" y="831.9" width="7" height="7" fill="#111"/>
<rect x="753.4" y="741.3" width="7" height="7" fill="#111"/>
<rect x="508.3" y="708.0" width="284.2" height="239.5" fill="none" stroke="#484848" stroke-width="1.1"/>
<path d="M718.2,776.2 H697" stroke="#111" stroke-width="1" fill="none"/><polygon points="693.2,776.2 700.5,773.8 700.5,778.6" fill="#111"/>
<path d="M650,861 H671" stroke="#111" stroke-width="1" fill="none"/><polygon points="675.5,861 668.2,858.6 668.2,863.4" fill="#111"/>
<path d="M527,734.4 H536.2 M546,734.4 H554.8" stroke="#111" stroke-width="1.2"/><rect x="537.6" y="730.9" width="7" height="7" fill="#111"/>
<text x="564.2" y="739" font-size="14.2"><tspan font-style="italic">T</tspan><tspan dy="6.2" font-size="14.5">max</tspan></text>
<path d="M527,759.4 H536.2 M546,759.4 H554.8" stroke="#111" stroke-width="1.2"/><rect x="538.1" y="756.4" width="6" height="6" fill="#fff" stroke="#555" stroke-width="1"/>
<text x="560.0" y="764.0" font-size="14.8" text-anchor="start" fill="#000" >Frontal Velocity</text>
<text transform="translate(455,828) rotate(-90)" font-size="20.8" text-anchor="middle">Frontal Velocity (mm/s)</text>
<text transform="translate(851,828) rotate(-90)" font-size="21.2" text-anchor="middle">Temperature (°C)</text>
<text x="651.0" y="988.3" font-size="20.8" text-anchor="middle" fill="#000" >Concentration of PCL (wt%)</text>
</g>
<text x="5.6" y="24.0" font-size="24.5" text-anchor="start" fill="#000" >a</text>
<text x="6.0" y="202.0" font-size="24.5" text-anchor="start" fill="#000" >b</text>
<text x="6.0" y="420.5" font-size="24.5" text-anchor="start" fill="#000" >c</text>
<text x="435.5" y="420.5" font-size="24.5" text-anchor="start" fill="#000" >d</text>
<text x="5.8" y="712.0" font-size="24.5" text-anchor="start" fill="#000" >e</text>
<text x="435.2" y="710.0" font-size="24.5" text-anchor="start" fill="#000" >f</text>
</svg>
</body></html>
